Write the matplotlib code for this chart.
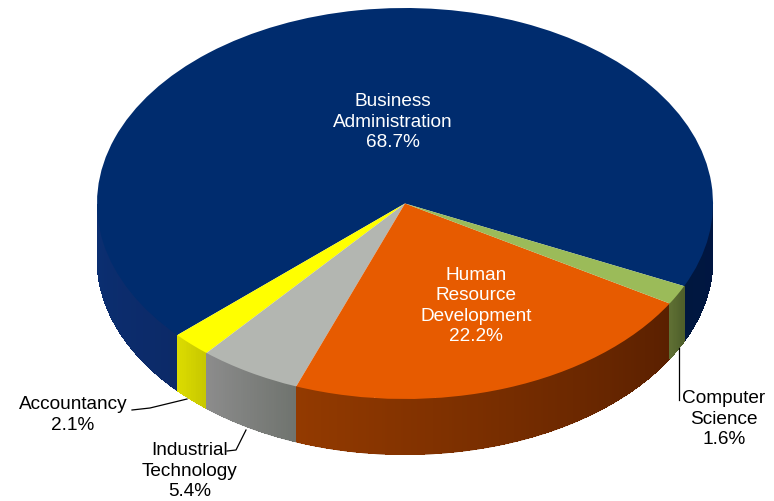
import numpy as np
import matplotlib
matplotlib.use("Agg")
import matplotlib.pyplot as plt
from matplotlib.colors import to_rgb

plt.rcParams['font.family'] = ['Liberation Sans', 'DejaVu Sans']

# slices, counter-clockwise from the start angle
programs = ["Business\nAdministration", "Accountancy", "Industrial\nTechnology",
            "Human\nResource\nDevelopment", "Computer\nScience"]
shares = [68.7, 2.1, 5.4, 22.2, 1.6]
top_colors = ["#002c6e", "#ffff00", "#b3b6b1", "#e75b00", "#9bbb59"]
# wall shading, left end and right end of each slice
wall_left = ["#0b2f72", "#dcdc00", "#8c8c8c", "#933a00", "#5f7034"]
wall_right = ["#001642", "#c8c800", "#70746f", "#5a2000", "#4f5f2a"]

START = -25
CX, CY, RX, RY, DEPTH = 405, 203.5, 308, 195.5, 56
W, H = 774, 501


def to_data(px, py):
    return (px - CX) / RX, (CY - py) / RY


def draw_wall(t0, t1, c0, c1):
    ts = np.radians(np.linspace(t0, t1, max(2, int(abs(t1 - t0) * 2) + 2)))
    c0, c1 = np.array(to_rgb(c0)), np.array(to_rgb(c1))
    d = DEPTH / RY
    # smooth outline first, in the middle colour
    xs = np.r_[np.cos(ts), np.cos(ts[::-1])]
    ys = np.r_[np.sin(ts), np.sin(ts[::-1]) - d]
    ax.fill(xs, ys, color=(c0 + c1) / 2, lw=0, zorder=0.4)
    # shading on top, aliased so the quads leave no seams
    inset = d - 0.6 / RY
    for i in range(len(ts) - 1):
        a, b = ts[i], ts[i + 1]
        f = i / max(1, len(ts) - 2)
        xq = [np.cos(a), np.cos(b), np.cos(b), np.cos(a)]
        yq = [np.sin(a), np.sin(b), np.sin(b) - inset, np.sin(a) - inset]
        ax.fill(xq, yq, color=c0 + (c1 - c0) * f, lw=0, antialiased=False, zorder=0.5)


fig = plt.figure(figsize=(W / 100, H / 100), dpi=100)
ax = fig.add_axes([0, 0, 1, 1])
ax.pie(shares, colors=top_colors, startangle=START, counterclock=True,
       wedgeprops={"linewidth": 0})
ax.set_aspect("auto")
ax.set_xlim(*sorted([to_data(0, 0)[0], to_data(W, 0)[0]]))
ax.set_ylim(to_data(0, H)[1], to_data(0, 0)[1])
ax.axis("off")

edges = START + np.cumsum([0] + shares) * 3.6
for i in range(len(shares)):
    t0, t1 = edges[i], edges[i + 1]
    if i == 0:
        # the big slice shows its wall on both sides of the front
        draw_wall(180, t1, wall_left[0], "#0c2a68")
        draw_wall(t0 + 360, 360, "#00173f", wall_right[0])
    else:
        draw_wall(t0, t1, wall_left[i], wall_right[i])

# value labels
txt = dict(ha="center", va="center", fontsize=13.7, linespacing=1.26)
x, y = to_data(393, 122)
ax.text(x, y, f"{programs[0]}\n{shares[0]}%", color="white", **txt)
x, y = to_data(476, 306)
ax.text(x, y, f"{programs[3]}\n{shares[3]}%", color="white", **txt)
x, y = to_data(73, 415)
ax.text(x, y, f"{programs[1]}\n{shares[1]}%", color="black", **txt)
x, y = to_data(190, 471)
ax.text(x, y, f"{programs[2]}\n{shares[2]}%", color="black", **txt)
x, y = to_data(724, 419)
ax.text(x, y, f"{programs[4]}\n{shares[4]}%", color="black", **txt)

# leader lines
leaders = [[(132, 410), (150, 408), (187, 399)],
           [(227, 451), (236, 450), (246, 430)],
           [(679, 348), (679, 400)]]
for pts in leaders:
    xy = np.array([to_data(*p) for p in pts])
    ax.plot(xy[:, 0], xy[:, 1], color="black", lw=0.9, zorder=3)

fig.savefig("out.png", dpi=100)
